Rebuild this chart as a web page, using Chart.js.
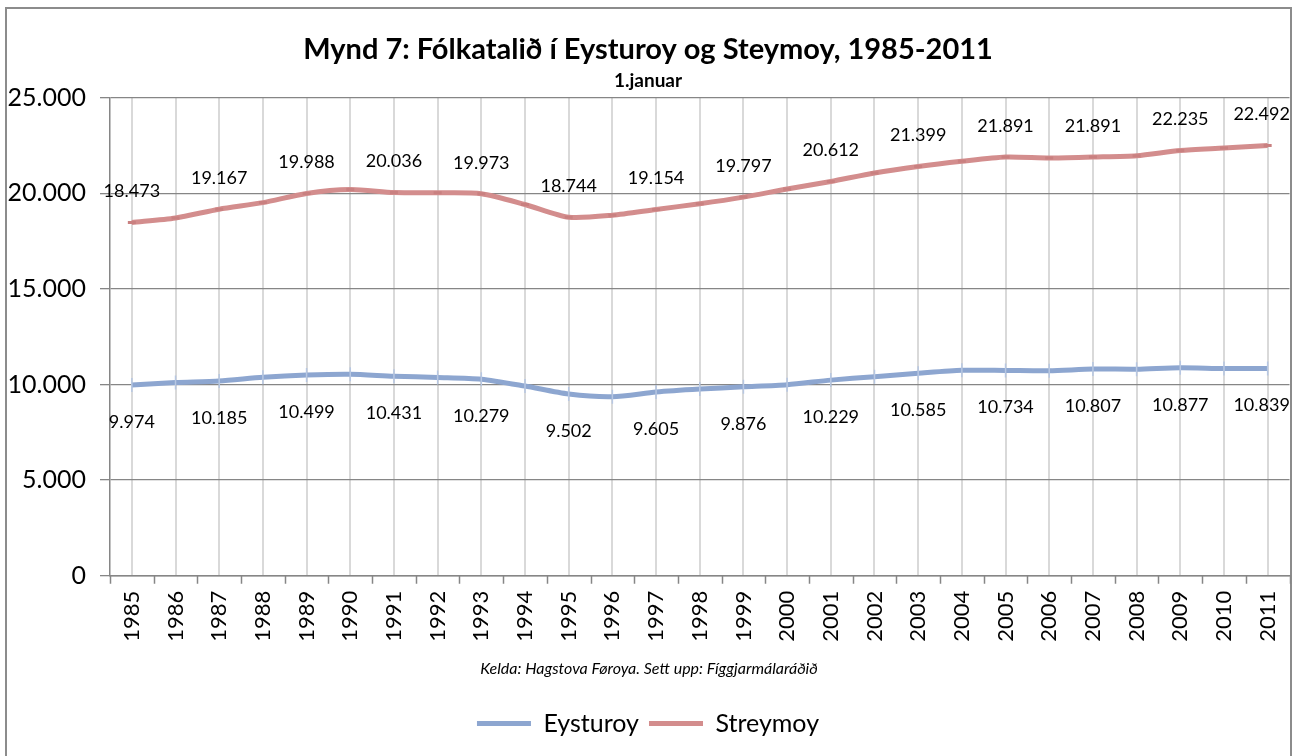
<!DOCTYPE html>
<html>
<head>
<meta charset="utf-8">
<script src="https://cdn.jsdelivr.net/npm/chart.js@4.4.1/dist/chart.umd.min.js"></script>
<style>
  html, body { margin: 0; padding: 0; background: #ffffff; }
  #wrap { width: 1298px; height: 756px; position: relative; }
</style>
</head>
<body>
<div id="wrap"><canvas id="c" width="1298" height="756"></canvas></div>
<script>
// ---- data ----
const years = ['1985','1986','1987','1988','1989','1990','1991','1992','1993','1994','1995','1996','1997','1998','1999','2000','2001','2002','2003','2004','2005','2006','2007','2008','2009','2010','2011'];
const eysturoy = [9974, 10100, 10185, 10380, 10499, 10540, 10431, 10370, 10279, 9920, 9502, 9360, 9605, 9760, 9876, 9990, 10229, 10410, 10585, 10740, 10734, 10720, 10807, 10800, 10877, 10830, 10839];
const streymoy = [18473, 18710, 19167, 19510, 19988, 20190, 20036, 20020, 19973, 19410, 18744, 18850, 19154, 19450, 19797, 20220, 20612, 21060, 21399, 21670, 21891, 21840, 21891, 21960, 22235, 22360, 22492];
const yTicks = [0, 5000, 10000, 15000, 20000, 25000];
const seriesNames = ['Eysturoy', 'Streymoy'];
const titleText = 'Mynd 7: Fólkatalið í Eysturoy og Steymoy, 1985-2011';
const subtitleText = '1.januar';
const sourceText = 'Kelda: Hagstova Føroya. Sett upp: Fíggjarmálaráðið';

const FONT = "Lato, 'Open Sans', sans-serif";
const SOURCE_FONT = { family: FONT, size: 16, style: 'italic' };
const SOURCE_PAD = { top: 2, bottom: 23 };
const fmt = v => String(Math.round(v)).replace(/\B(?=(\d{3})+(?!\d))/g, '.');

const borderPlugin = {
  id: 'outerBorder',
  beforeDraw(chart) {
    const ctx = chart.ctx;
    ctx.save();
    ctx.fillStyle = '#ffffff';
    ctx.fillRect(0, 0, chart.width, chart.height);
    ctx.strokeStyle = '#8c8c8c';
    ctx.lineWidth = 2;
    ctx.strokeRect(6, 8, 1285, 780);
    ctx.restore();
  }
};

const xTickMarks = {
  id: 'xTickMarks',
  afterDraw(chart) {
    const xs = chart.scales.x;
    const ctx = chart.ctx;
    const w = xs.getPixelForValue(1) - xs.getPixelForValue(0);
    const y0 = chart.chartArea.bottom;
    ctx.save();
    ctx.strokeStyle = '#868686';
    ctx.lineWidth = 1.5;
    ctx.beginPath();
    for (let i = 0; i <= years.length; i++) {
      const px = Math.round(xs.getPixelForValue(0) - w / 2 + i * w) + 0.5;
      ctx.moveTo(px, y0);
      ctx.lineTo(px, y0 + 8);
    }
    ctx.stroke();
    // source note, centred on the whole canvas like the original
    const lh = SOURCE_FONT.size * 1.2;
    const ty = xs.bottom - SOURCE_PAD.bottom - lh / 2;
    ctx.font = 'italic ' + SOURCE_FONT.size + 'px ' + FONT;
    ctx.fillStyle = '#000000';
    ctx.textAlign = 'center';
    ctx.textBaseline = 'middle';
    ctx.fillText(sourceText, chart.width / 2, ty);
    ctx.restore();
  }
};

const dataLabels = {
  id: 'dataLabelsOdd',
  afterDatasetsDraw(chart) {
    const ctx = chart.ctx;
    const offsets = [37, -31];
    ctx.save();
    ctx.font = '18px ' + FONT;
    ctx.fillStyle = '#000000';
    ctx.textAlign = 'center';
    ctx.textBaseline = 'middle';
    chart.data.datasets.forEach((ds, di) => {
      const meta = chart.getDatasetMeta(di);
      meta.data.forEach((pt, i) => {
        if (i % 2 !== 0) return;
        let x = pt.x;
        if (i === years.length - 1) x -= 6;
        ctx.fillText(fmt(ds.data[i]), x, pt.y + offsets[di]);
      });
    });
    ctx.restore();
  }
};

new Chart(document.getElementById('c'), {
  type: 'line',
  data: {
    labels: years,
    datasets: [
      {
        label: seriesNames[0],
        data: eysturoy,
        borderColor: '#8DA6D0',
        backgroundColor: '#8DA6D0',
        borderWidth: 5,
        tension: 0.25,
        pointStyle: 'line',
        pointRotation: 90,
        pointRadius: 7,
        pointBorderWidth: 1.5,
        pointBorderColor: '#B7C7E2',
        pointHoverRadius: 7
      },
      {
        label: seriesNames[1],
        data: streymoy,
        borderColor: '#D38D8D',
        backgroundColor: '#D38D8D',
        borderWidth: 5,
        tension: 0.25,
        pointStyle: 'line',
        pointRadius: 4,
        pointBorderWidth: 3,
        pointBorderColor: '#C98080',
        pointHoverRadius: 4
      }
    ]
  },
  options: {
    responsive: false,
    animation: false,
    events: [],
    layout: { padding: { left: 6, right: 8, top: 0, bottom: 10 } },
    plugins: {
      title: {
        display: true,
        text: titleText,
        color: '#000000',
        font: { family: FONT, size: 29, weight: 'bold' },
        padding: { top: 32, bottom: 3 }
      },
      subtitle: {
        display: true,
        text: subtitleText,
        color: '#000000',
        font: { family: FONT, size: 19, weight: 'bold' },
        padding: { top: 0, bottom: 5 }
      },
      legend: {
        position: 'bottom',
        labels: {
          color: '#000000',
          font: { family: FONT, size: 25 },
          boxWidth: 54,
          boxHeight: 5,
          padding: 10,
          generateLabels(chart) {
            return chart.data.datasets.map((ds, i) => ({
              text: ds.label,
              fillStyle: ds.borderColor,
              strokeStyle: ds.borderColor,
              lineWidth: 0,
              hidden: false,
              datasetIndex: i,
              fontColor: '#000000'
            }));
          }
        }
      },
      tooltip: { enabled: false }
    },
    scales: {
      x: {
        type: 'category',
        offset: true,
        afterFit(scale) { scale.paddingRight = 0; scale.paddingLeft = 0; },
        grid: {
          offset: false,
          color: '#D9D9D9',
          lineWidth: 2,
          drawTicks: false
        },
        border: { color: '#868686', width: 1.5 },
        ticks: {
          color: '#000000',
          font: { family: FONT, size: 22 },
          maxRotation: 90,
          minRotation: 90,
          autoSkip: false,
          padding: 15
        },
        title: {
          display: true,
          text: sourceText,
          color: 'rgba(0,0,0,0)',
          font: SOURCE_FONT,
          padding: SOURCE_PAD
        }
      },
      y: {
        min: 0,
        max: 25000,
        afterBuildTicks(scale) { scale.ticks = yTicks.map(v => ({ value: v })); },
        afterFit(scale) { scale.width = 104; },
        grid: {
          color: '#868686',
          lineWidth: 1.3,
          tickLength: 10,
          drawTicks: true
        },
        border: { color: '#868686', width: 1.5 },
        ticks: {
          color: '#000000',
          font: { family: FONT, size: 25 },
          padding: 14,
          callback: v => fmt(v)
        }
      }
    }
  },
  plugins: [borderPlugin, xTickMarks, dataLabels]
});
</script>
</body>
</html>
